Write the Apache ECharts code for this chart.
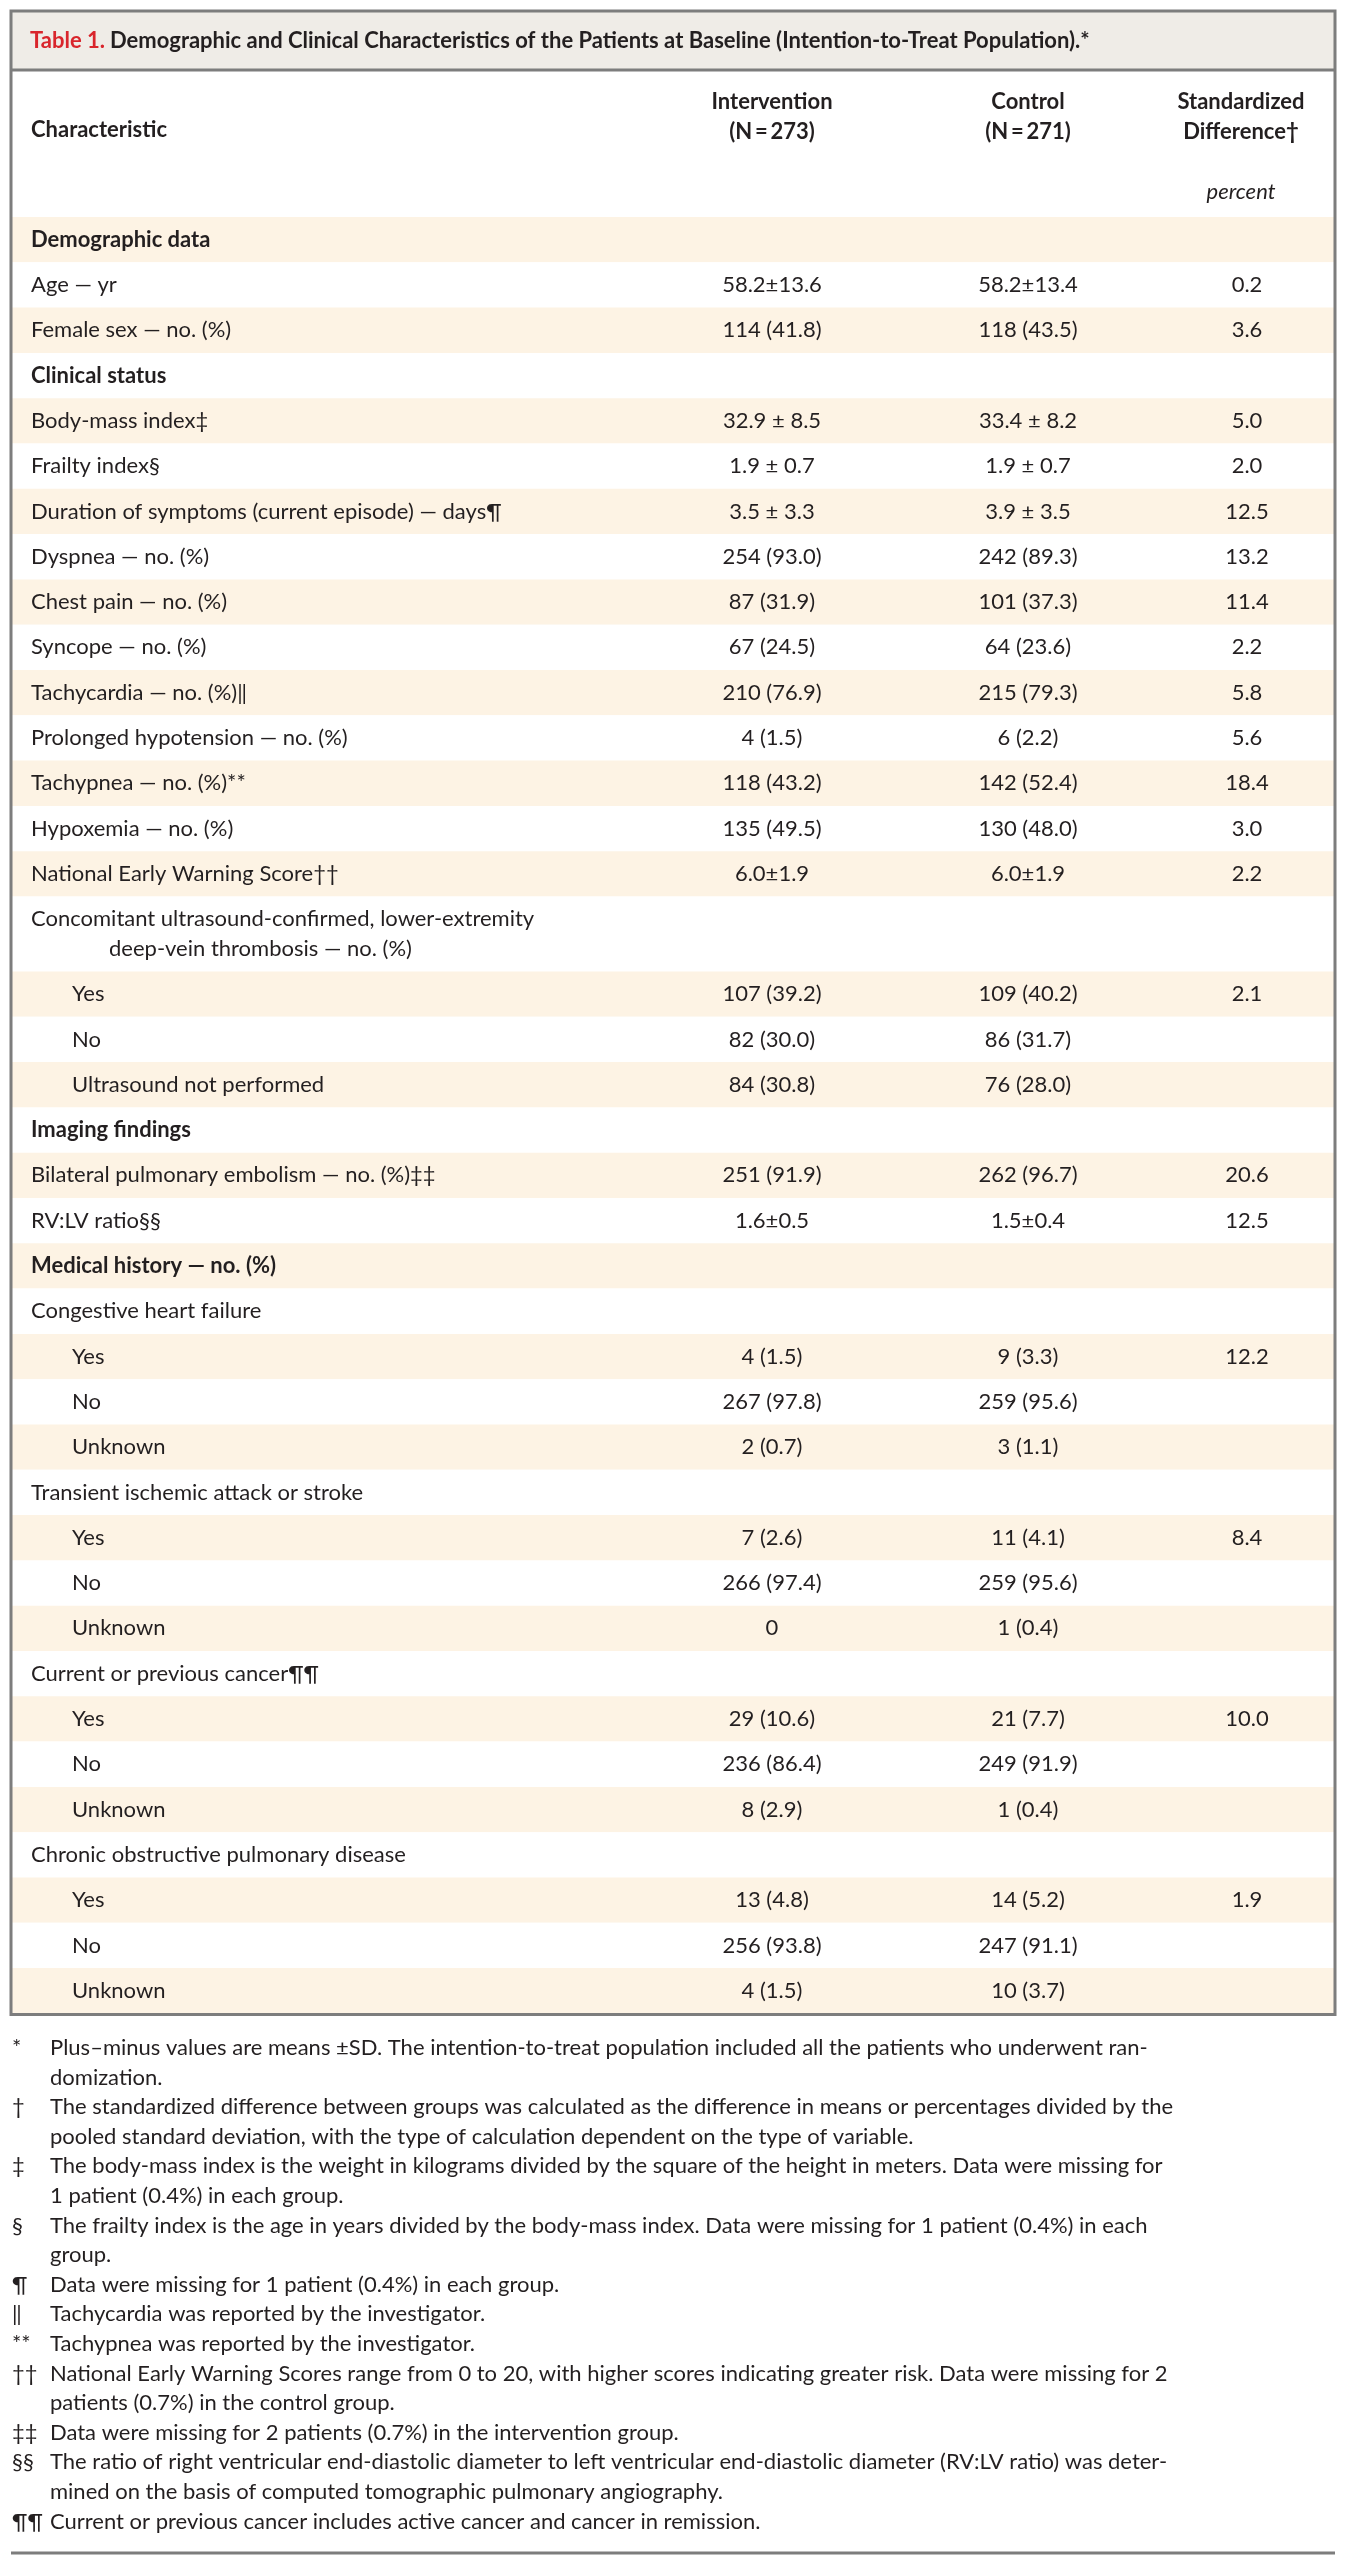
<!DOCTYPE html>
<html>
<head>
<meta charset="utf-8">
<title>Table 1</title>
<script src="https://cdn.jsdelivr.net/npm/echarts@6/dist/echarts.min.js"></script>
<style>
  html, body { margin: 0; padding: 0; background: #fff; }
  #chart { width: 1346px; height: 2560px; }
</style>
</head>
<body>
<div id="chart"></div>
<script>
// ---- table content ----
const characteristics = [
    'Demographic data',
    'Age \u2014 yr',
    'Female sex \u2014 no. (%)',
    'Clinical status',
    'Body-mass index\u2021',
    'Frailty index\u00a7',
    'Duration of symptoms (current episode) \u2014 days\u00b6',
    'Dyspnea \u2014 no. (%)',
    'Chest pain \u2014 no. (%)',
    'Syncope \u2014 no. (%)',
    'Tachycardia \u2014 no. (%)\u2016',
    'Prolonged hypotension \u2014 no. (%)',
    'Tachypnea \u2014 no. (%)**',
    'Hypoxemia \u2014 no. (%)',
    'National Early Warning Score\u2020\u2020',
    'Concomitant ultrasound-confirmed, lower-extremity\ndeep-vein thrombosis \u2014 no. (%)',
    'Yes',
    'No',
    'Ultrasound not performed',
    'Imaging findings',
    'Bilateral pulmonary embolism \u2014 no. (%)\u2021\u2021',
    'RV:LV ratio\u00a7\u00a7',
    'Medical history \u2014 no. (%)',
    'Congestive heart failure',
    'Yes',
    'No',
    'Unknown',
    'Transient ischemic attack or stroke',
    'Yes',
    'No',
    'Unknown',
    'Current or previous cancer\u00b6\u00b6',
    'Yes',
    'No',
    'Unknown',
    'Chronic obstructive pulmonary disease',
    'Yes',
    'No',
    'Unknown'
];
// section = bold heading, item = plain row, sub = indented answer
const rowKinds = [
    'section', 'item', 'item',
    'section', 'item', 'item', 'item', 'item', 'item', 'item', 'item', 'item', 'item', 'item', 'item',
    'item', 'sub', 'sub', 'sub',
    'section', 'item', 'item',
    'section', 'item', 'sub', 'sub', 'sub',
    'item', 'sub', 'sub', 'sub',
    'item', 'sub', 'sub', 'sub',
    'item', 'sub', 'sub', 'sub'
];
const intervention = [
    '', '58.2\u00b113.6', '114 (41.8)',
    '', '32.9 \u00b1 8.5', '1.9 \u00b1 0.7', '3.5 \u00b1 3.3', '254 (93.0)', '87 (31.9)', '67 (24.5)', '210 (76.9)', '4 (1.5)', '118 (43.2)', '135 (49.5)', '6.0\u00b11.9',
    '', '107 (39.2)', '82 (30.0)', '84 (30.8)',
    '', '251 (91.9)', '1.6\u00b10.5',
    '', '', '4 (1.5)', '267 (97.8)', '2 (0.7)',
    '', '7 (2.6)', '266 (97.4)', '0',
    '', '29 (10.6)', '236 (86.4)', '8 (2.9)',
    '', '13 (4.8)', '256 (93.8)', '4 (1.5)'
];
const control = [
    '', '58.2\u00b113.4', '118 (43.5)',
    '', '33.4 \u00b1 8.2', '1.9 \u00b1 0.7', '3.9 \u00b1 3.5', '242 (89.3)', '101 (37.3)', '64 (23.6)', '215 (79.3)', '6 (2.2)', '142 (52.4)', '130 (48.0)', '6.0\u00b11.9',
    '', '109 (40.2)', '86 (31.7)', '76 (28.0)',
    '', '262 (96.7)', '1.5\u00b10.4',
    '', '', '9 (3.3)', '259 (95.6)', '3 (1.1)',
    '', '11 (4.1)', '259 (95.6)', '1 (0.4)',
    '', '21 (7.7)', '249 (91.9)', '1 (0.4)',
    '', '14 (5.2)', '247 (91.1)', '10 (3.7)'
];
const stdDifference = [
    '', '0.2', '3.6',
    '', '5.0', '2.0', '12.5', '13.2', '11.4', '2.2', '5.8', '5.6', '18.4', '3.0', '2.2',
    '', '2.1', '', '',
    '', '20.6', '12.5',
    '', '', '12.2', '', '',
    '', '8.4', '', '',
    '', '10.0', '', '',
    '', '1.9', '', ''
];
const columnHeaders = [
    ['Intervention', '(N\u2009=\u2009273)'],
    ['Control', '(N\u2009=\u2009271)'],
    ['Standardized', 'Difference\u2020']
];
const titleLabel = 'Table 1.';
const titleText = 'Demographic and Clinical Characteristics of the Patients at Baseline (Intention-to-Treat Population).*';
const footnotes = [
    ['*', ['Plus\u2013minus values are means \u00b1SD. The intention-to-treat population included all the patients who underwent ran-', 'domization.']],
    ['\u2020', ['The standardized difference between groups was calculated as the difference in means or percentages divided by the', 'pooled standard deviation, with the type of calculation dependent on the type of variable.']],
    ['\u2021', ['The body-mass index is the weight in kilograms divided by the square of the height in meters. Data were missing for', '1 patient (0.4%) in each group.']],
    ['\u00a7', ['The frailty index is the age in years divided by the body-mass index. Data were missing for 1 patient (0.4%) in each', 'group.']],
    ['\u00b6', ['Data were missing for 1 patient (0.4%) in each group.']],
    ['\u2016', ['Tachycardia was reported by the investigator.']],
    ['**', ['Tachypnea was reported by the investigator.']],
    ['\u2020\u2020', ['National Early Warning Scores range from 0 to 20, with higher scores indicating greater risk. Data were missing for 2', 'patients (0.7%) in the control group.']],
    ['\u2021\u2021', ['Data were missing for 2 patients (0.7%) in the intervention group.']],
    ['\u00a7\u00a7', ['The ratio of right ventricular end-diastolic diameter to left ventricular end-diastolic diameter (RV:LV ratio) was deter-', 'mined on the basis of computed tomographic pulmonary angiography.']],
    ['\u00b6\u00b6', ['Current or previous cancer includes active cancer and cancer in remission.']]
];

// ---- layout ----
const FONT = 'Lato, "Open Sans", sans-serif';
const INK = '#231f20';
const SHADE = '#fdf3e4';
const RULE = '#7d7d7d';
const FS = 22;
const TABLE_LEFT = 11, TABLE_RIGHT = 1335, TABLE_TOP = 11, TITLE_BOTTOM = 70;
const TABLE_W = TABLE_RIGHT - TABLE_LEFT;
const ROW_PX = 45.3;
const HEADER_UNITS = (217 - TITLE_BOTTOM) / ROW_PX;
const WRAPPED_ROW_UNITS = 1.656;
const LABEL_X = 20, SUB_X = 61, WRAP_X = 98;
const VALUE_X = [761, 1017, 1236];
const HEADER_X = [761, 1017, 1230];

const rowUnits = characteristics.map(c => c.indexOf('\n') >= 0 ? WRAPPED_ROW_UNITS : 1);
const rowTop = [];
rowUnits.reduce((acc, u, i) => { rowTop[i] = acc; return acc + u; }, 0);
const totalUnits = rowUnits.reduce((a, b) => a + b, 0);
const gridHeight = (HEADER_UNITS + totalUnits) * ROW_PX;
const TABLE_BOTTOM = TITLE_BOTTOM + gridHeight + 1;

function txt(text, x, y, opt) {
    return {
        type: 'text',
        style: Object.assign({
            text: text, x: x, y: y,
            align: 'left', verticalAlign: 'middle',
            fontFamily: FONT, fontSize: FS, fill: INK
        }, opt || {})
    };
}

function renderRow(params, api) {
    const i = api.value(0);
    const top = api.value(1), units = api.value(2);
    const a = api.coord([0, top]);
    const b = api.coord([TABLE_W, top + units]);
    const cy = (a[1] + b[1]) / 2;
    const kind = rowKinds[i];
    const children = [{
        type: 'rect',
        shape: { x: a[0], y: a[1], width: b[0] - a[0], height: b[1] - a[1] },
        style: { fill: i % 2 === 0 ? SHADE : '#ffffff' }
    }];
    const lines = characteristics[i].split('\n');
    lines.forEach((line, k) => {
        const ix = k > 0 ? WRAP_X : (kind === 'sub' ? SUB_X : LABEL_X);
        children.push(txt(line, api.coord([ix, 0])[0], cy + (k - (lines.length - 1) / 2) * 30, {
            fontWeight: kind === 'section' ? 'bold' : 'normal'
        }));
    });
    [intervention, control, stdDifference].forEach((col, c) => {
        if (col[i]) {
            children.push(txt(col[i], api.coord([VALUE_X[c], 0])[0], cy, { align: 'center' }));
        }
    });
    return { type: 'group', children: children };
}

function renderHeader(params, api) {
    const y = u => api.coord([0, u - HEADER_UNITS])[1];
    const children = [txt('Characteristic', api.coord([LABEL_X, 0])[0], y(1.33), { fontWeight: 'bold' })];
    columnHeaders.forEach((h, c) => {
        const x = api.coord([HEADER_X[c], 0])[0];
        children.push(txt(h[0], x, y(0.7), { align: 'center', fontWeight: 'bold' }));
        children.push(txt(h[1], x, y(1.36), { align: 'center', fontWeight: 'bold' }));
    });
    children.push(txt('percent', api.coord([HEADER_X[2], 0])[0], y(2.7), { align: 'center', fontStyle: 'italic' }));
    return { type: 'group', children: children };
}

// footnotes under the table
const footGraphics = [];
let footLine = 0;
footnotes.forEach(f => {
    const y0 = 2048 + footLine * 29.6;
    footGraphics.push(Object.assign(txt(f[0], 12, y0), { z: 10 }));
    f[1].forEach((line, k) => {
        footGraphics.push(Object.assign(txt(line, 50, y0 + k * 29.6), { z: 10 }));
    });
    footLine += f[1].length;
});

const chart = echarts.init(document.getElementById('chart'), null, { renderer: 'canvas' });
chart.setOption({
    animation: false,
    backgroundColor: '#ffffff',
    title: {
        left: 30,
        top: 26,
        padding: 0,
        text: '{r|' + titleLabel + '} {b|' + titleText + '}',
        textStyle: {
            rich: {
                r: { color: '#d9252c', fontFamily: FONT, fontSize: FS, fontWeight: 'bold', lineHeight: 30 },
                b: { color: INK, fontFamily: FONT, fontSize: FS, fontWeight: 'bold', lineHeight: 30 }
            }
        },
        z: 20
    },
    grid: {
        left: TABLE_LEFT,
        top: TITLE_BOTTOM,
        width: TABLE_W,
        height: gridHeight,
        show: false
    },
    xAxis: { type: 'value', min: 0, max: TABLE_W, show: false },
    yAxis: { type: 'value', min: -HEADER_UNITS, max: totalUnits, inverse: true, show: false },
    series: [
        {
            type: 'custom',
            name: 'rows',
            renderItem: renderRow,
            data: characteristics.map((c, i) => [i, rowTop[i], rowUnits[i]]),
            encode: { x: -1, y: 1 },
            silent: true
        },
        {
            type: 'custom',
            name: 'header',
            renderItem: renderHeader,
            data: [[0, 0, 0]],
            encode: { x: -1, y: 1 },
            silent: true
        }
    ],
    graphic: [
        {
            type: 'rect', z: 1,
            shape: { x: TABLE_LEFT, y: TABLE_TOP, width: TABLE_W, height: TITLE_BOTTOM - TABLE_TOP },
            style: { fill: '#efece7' }
        },
        {
            type: 'rect', z: 30,
            shape: { x: TABLE_LEFT, y: TABLE_TOP, width: TABLE_W, height: TABLE_BOTTOM - TABLE_TOP },
            style: { fill: 'none', stroke: RULE, lineWidth: 3 }
        },
        {
            type: 'line', z: 30,
            shape: { x1: TABLE_LEFT, y1: TITLE_BOTTOM, x2: TABLE_RIGHT, y2: TITLE_BOTTOM },
            style: { stroke: RULE, lineWidth: 3 }
        },
        {
            type: 'line', z: 30,
            shape: { x1: TABLE_LEFT, y1: 2553, x2: TABLE_RIGHT, y2: 2553 },
            style: { stroke: RULE, lineWidth: 3 }
        }
    ].concat(footGraphics)
});
</script>
</body>
</html>
